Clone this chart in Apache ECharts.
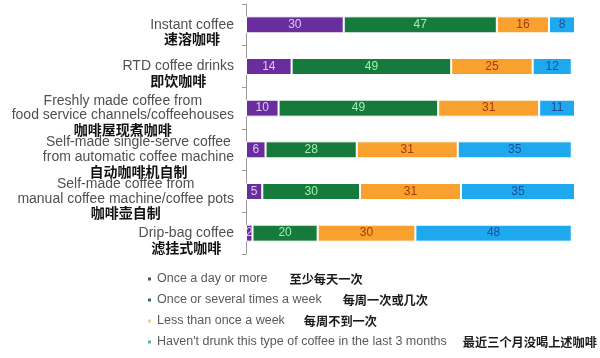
<!DOCTYPE html>
<html>
<head>
<meta charset="utf-8">
<style>html,body{margin:0;padding:0;background:#fff;}#chart{width:600px;height:358px;}</style>
<script src="https://cdn.jsdelivr.net/npm/echarts@6/dist/echarts.min.js"></script>
</head>
<body>
<div id="chart"></div>
<script>
// ---- data ----
var categoriesEn = [
  'Instant coffee',
  'RTD coffee drinks',
  'Freshly made coffee from\nfood service channels/coffeehouses',
  'Self-made single-serve coffee\nfrom automatic coffee machine',
  'Self-made coffee from\nmanual coffee machine/coffee pots',
  'Drip-bag coffee'
];
var categoriesZh = ['速溶咖啡', '即饮咖啡', '咖啡屋现煮咖啡', '自动咖啡机自制', '咖啡壶自制', '滤挂式咖啡'];
var seriesNamesEn = ['Once a day or more', 'Once or several times a week', 'Less than once a week', "Haven't drunk this type of coffee in the last 3 months"];
var seriesNamesZh = ['至少每天一次', '每周一次或几次', '每周不到一次', '最近三个月没喝上述咖啡'];
var onceADay = [30, 14, 10, 6, 5, 2];
var weekly = [47, 49, 49, 28, 30, 20];
var lessThanWeekly = [16, 25, 31, 31, 31, 30];
var notInThreeMonths = [8, 12, 11, 35, 35, 48];

// ---- styles ----
var barColors = ['#6a2d9e', '#157a3c', '#f8a12e', '#1ea9ef'];
var labelColors = ['#dccbf2', '#a4ecb0', '#a8380e', '#1d4c98'];
var legendMarkerColors = ['#5b4a6c', '#3c6a52', '#ecc9a0', '#52b3aa'];
var legendGaps = [22, 21, 19, 16];

var values = [onceADay, weekly, lessThanWeekly, notInThreeMonths];
var chart = echarts.init(document.getElementById('chart'), null, {renderer: 'canvas'});

var series = seriesNamesEn.map(function (name, i) {
  return {
    name: name,
    type: 'bar',
    stack: 'total',
    barWidth: 17,
    data: values[i],
    itemStyle: {color: barColors[i], borderColor: '#ffffff', borderWidth: 1},
    label: {
      show: true,
      position: 'inside',
      color: labelColors[i],
      fontSize: 12,
      fontFamily: 'Liberation Sans, Arial, sans-serif',
      formatter: function (p) { return p.value; }
    },
    emphasis: {disabled: true}
  };
});

var legendRich = {
  e: {fontSize: 12.5, color: '#5a5a5a', fontFamily: 'Liberation Sans, Arial, sans-serif'},
  c: {fontSize: 12.2, color: '#1a1a1a', fontWeight: 'bold', fontFamily: 'Noto Sans CJK SC, sans-serif'}
};
legendGaps.forEach(function (g, i) { legendRich['g' + i] = {width: g}; });

var option = {
  animation: false,
  grid: {left: 246, right: 25, top: 4, bottom: 104},
  xAxis: {type: 'value', min: 0, max: 101, show: false},
  yAxis: {
    type: 'category',
    inverse: true,
    data: categoriesEn.map(function (c, i) { return i; }),
    axisLine: {show: true, lineStyle: {color: '#9a9a9a', width: 1}},
    axisTick: {show: true, length: 4, lineStyle: {color: '#9a9a9a'}},
    axisLabel: {
      interval: 0,
      margin: 12,
      hideOverlap: false,
      formatter: function (v) {
        var idx = Number(v);
        var lines = categoriesEn[idx].split('\n').map(function (l) { return '{e|' + l + '}'; });
        return '{b| }\n' + lines.join('\n') + '\n{c|' + categoriesZh[idx] + '}';
      },
      rich: {
        b: {fontSize: 14, lineHeight: 14, align: 'center'},
        e: {fontSize: 14, lineHeight: 14.5, color: '#505050', align: 'center', fontFamily: 'Liberation Sans, Arial, sans-serif'},
        c: {fontSize: 14, lineHeight: 14, color: '#111111', fontWeight: 'bold', align: 'center', fontFamily: 'Noto Sans CJK SC, sans-serif'}
      }
    }
  },
  legend: {
    orient: 'vertical',
    left: 146,
    top: 272,
    padding: 0,
    itemWidth: 5,
    itemHeight: 5,
    itemGap: 7,
    icon: 'rect',
    selectedMode: false,
    data: seriesNamesEn.map(function (n, i) {
      return {name: n, itemStyle: {color: legendMarkerColors[i]}};
    }),
    formatter: function (name) {
      var i = seriesNamesEn.indexOf(name);
      return '{e|' + name + '}{g' + i + '|}{c|' + seriesNamesZh[i] + '}';
    },
    textStyle: {lineHeight: 14, rich: legendRich}
  },
  series: series
};
chart.setOption(option);
</script>
</body>
</html>
